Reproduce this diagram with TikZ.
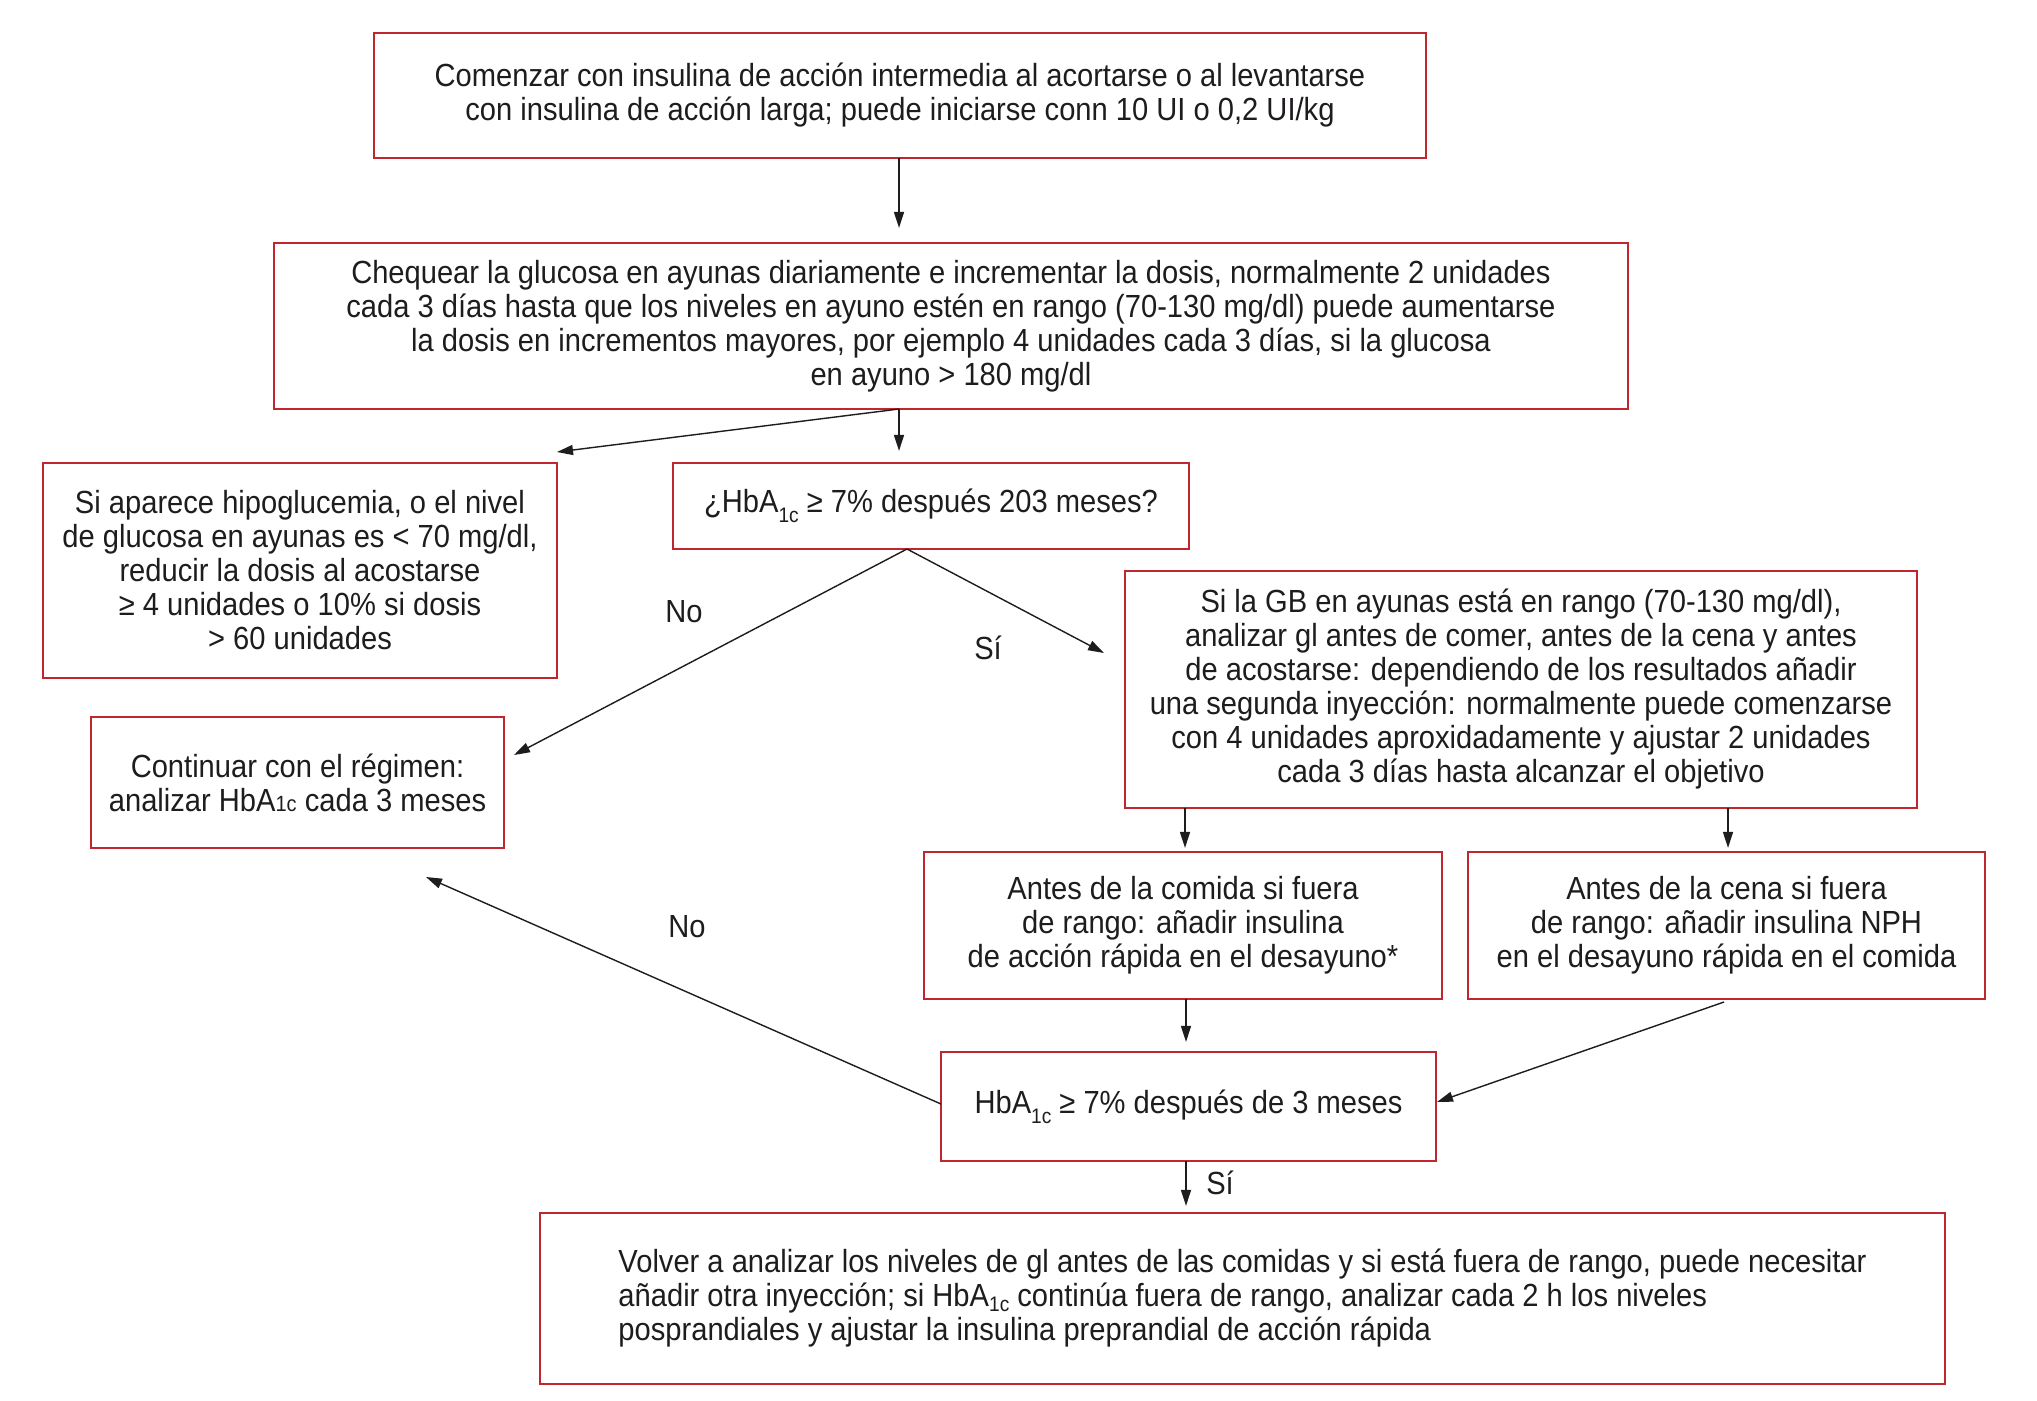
\documentclass[tikz,border=0pt]{standalone}
\usepackage{fontspec}
\setmainfont[FakeStretch=0.91]{Liberation Sans}
\usetikzlibrary{arrows.meta,calc}
\definecolor{boxred}{RGB}{192,38,46}
\definecolor{ink}{RGB}{30,28,30}
\newcommand{\lowsub}[2][-10pt]{\raisebox{#1}{\fontsize{21}{21}\selectfont #2}}
\newcommand{\smallsub}[1]{{\fontsize{22}{22}\selectfont #1}}
\begin{document}
\begin{tikzpicture}[x=1pt,y=-1pt,
  every node/.style={text=ink, font=\fontsize{32}{34}\selectfont},
  fbox/.style={draw=boxred, line width=2.2pt, inner sep=0pt, align=center},
  arr/.style={draw=ink, line width=1.4pt, -{Triangle[length=16pt,width=10pt]}},
  lbl/.style={inner sep=0pt}]
\useasboundingbox (0,0) rectangle (2037,1400);
\fill[white] (0,0) rectangle (2037,1400);

\node[fbox, minimum width=1052pt, minimum height=125pt] (b1) at (900,95.5)
 {Comenzar con insulina de acción intermedia al acortarse o al levantarse\\
  con insulina de acción larga; puede iniciarse conn 10 UI o 0,2 UI/kg};

\node[fbox, minimum width=1354pt, minimum height=166pt] (b2) at (951,326)
 {Chequear la glucosa en ayunas diariamente e incrementar la dosis, normalmente 2 unidades\\
  cada 3 días hasta que los niveles en ayuno estén en rango (70-130 mg/dl) puede aumentarse\\
  la dosis en incrementos mayores, por ejemplo 4 unidades cada 3 días, si la glucosa\\
  en ayuno > 180 mg/dl};

\node[fbox, minimum width=514pt, minimum height=215pt] (hypo) at (300,570.5)
 {Si aparece hipoglucemia, o el nivel\\
  de glucosa en ayunas es < 70 mg/dl,\\
  reducir la dosis al acostarse\\
  ≥ 4 unidades o 10\% si dosis\\
  > 60 unidades};

\node[fbox, minimum width=516pt, minimum height=86pt] (q) at (931,506)
 {¿HbA\lowsub{1c} ≥ 7\% después 203 meses?};

\node[fbox, minimum width=413pt, minimum height=131pt] (cont) at (297.5,782.5)
 {Continuar con el régimen:\\
  analizar HbA\smallsub{1c} cada 3 meses};

\node[fbox, minimum width=792pt, minimum height=237pt] (gb) at (1521,689.5)
 {Si la GB en ayunas está en rango (70-130 mg/dl),\\
  analizar gl antes de comer, antes de la cena y antes\\
  de acostarse: dependiendo de los resultados añadir\\
  una segunda inyección: normalmente puede comenzarse\\
  con 4 unidades aproxidadamente y ajustar 2 unidades\\
  cada 3 días hasta alcanzar el objetivo};

\node[fbox, minimum width=518pt, minimum height=147pt] (com) at (1183,925.5)
 {Antes de la comida si fuera\\
  de rango: añadir insulina\\
  de acción rápida en el desayuno*};

\node[fbox, minimum width=517pt, minimum height=147pt] (cena) at (1726.5,925.5)
 {Antes de la cena si fuera\\
  de rango: añadir insulina NPH\\
  en el desayuno rápida en el comida};

\node[fbox, minimum width=495pt, minimum height=109pt] (h3) at (1188.5,1106.5)
 {HbA\lowsub{1c} ≥ 7\% después de 3 meses};

\node[fbox, minimum width=1405pt, minimum height=171pt, align=left] (bot) at (1242.5,1298.5)
 {Volver a analizar los niveles de gl antes de las comidas y si está fuera de rango, puede necesitar\\
  añadir otra inyección; si HbA\lowsub[-5pt]{1c} continúa fuera de rango, analizar cada 2 h los niveles\\
  posprandiales y ajustar la insulina preprandial de acción rápida};

% connector points
\coordinate (s1) at (899,158);
\coordinate (s2) at (899,409);
\coordinate (hypotip) at (557,452);
\coordinate (qs) at (907,549);
\coordinate (notip) at (514,755);
\coordinate (sitip) at (1104,653);
\coordinate (gbl) at (1185,808);
\coordinate (gbr) at (1728,808);
\coordinate (coms) at (1186,999);
\coordinate (cenas) at (1724,1002);
\coordinate (h3tip) at (1437,1102);
\coordinate (h3s) at (1186,1161);
\coordinate (h3w) at (941,1104);
\coordinate (no2tip) at (426,877);

\draw[arr, shorten >=14pt] (s1) -- (s1 |- b2.north);
\draw[arr] (s2) -- (hypotip);
\draw[arr, shorten >=11pt] (s2) -- (s2 |- q.north);
\draw[arr] (qs) -- (notip);
\draw[arr] (qs) -- (sitip);
\draw[arr, shorten >=3pt] (gbl) -- (gbl |- com.north);
\draw[arr, shorten >=3pt] (gbr) -- (gbr |- cena.north);
\draw[arr, shorten >=9pt] (coms) -- (coms |- h3.north);
\draw[arr] (cenas) -- (h3tip);
\draw[arr, shorten >=6pt] (h3s) -- (h3s |- bot.north);
\draw[arr] (h3w) -- (no2tip);

\node[lbl] (no1) at (684,612) {No};
\node[lbl] (si1) at (988,648) {Sí};
\node[lbl] (no2) at (687,927) {No};
\node[lbl] (si2) at (1220,1183) {Sí};
\end{tikzpicture}
\end{document}
